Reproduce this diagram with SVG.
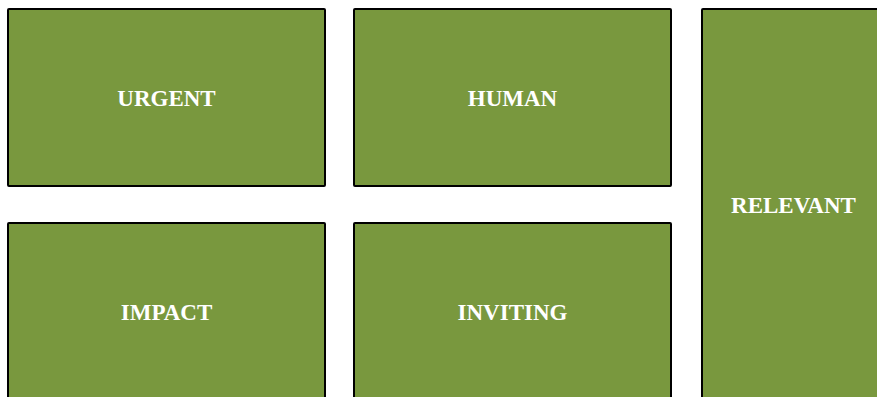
<svg xmlns="http://www.w3.org/2000/svg" width="877" height="397" viewBox="0 0 877 397">
<style>
.box{fill:#79983e;stroke:#000;stroke-width:2}
.lbl{font-family:"Liberation Serif","Times New Roman",serif;font-weight:bold;font-size:23px;fill:#fff;text-anchor:middle}
</style>
<rect width="877" height="397" fill="#fff"/>
<g id="urgent"><rect class="box" x="8" y="9" width="317" height="177" rx="1"/><text class="lbl" x="166.5" y="105.5">URGENT</text></g>
<g id="human"><rect class="box" x="354" y="9" width="317" height="177" rx="1"/><text class="lbl" x="512.5" y="105.5">HUMAN</text></g>
<g id="relevant"><rect class="box" x="702" y="9" width="184" height="392" rx="1"/><text class="lbl" x="793.5" y="212.5">RELEVANT</text></g>
<g id="impact"><rect class="box" x="8" y="223" width="317" height="177" rx="1"/><text class="lbl" x="166.5" y="319.5">IMPACT</text></g>
<g id="inviting"><rect class="box" x="354" y="223" width="317" height="177" rx="1"/><text class="lbl" x="512.5" y="319.5">INVITING</text></g>
<g id="connectors"></g>
</svg>
